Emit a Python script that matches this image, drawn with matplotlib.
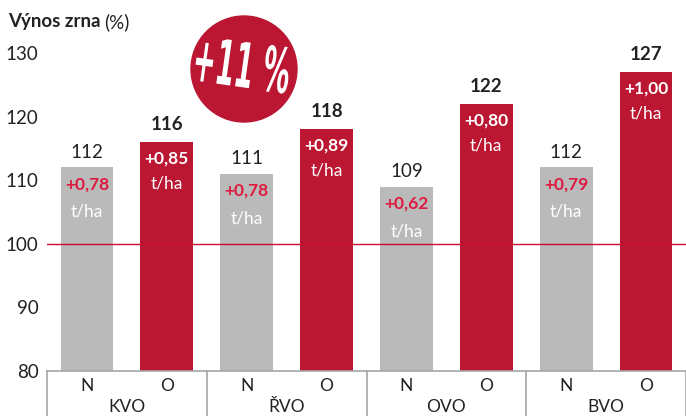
import matplotlib
matplotlib.use('Agg')
import matplotlib.pyplot as plt
from matplotlib.patches import Circle, PathPatch
from matplotlib.textpath import TextPath
from matplotlib.font_manager import FontProperties
import matplotlib.transforms as mtransforms

# data
groups = ['KVO', 'ŘVO', 'OVO', 'BVO']
n_vals = [112, 111, 109, 112]
o_vals = [116, 118, 122, 127]
n_gain = ['+0,78', '+0,78', '+0,62', '+0,79']
o_gain = ['+0,85', '+0,89', '+0,80', '+1,00']
sub_labels = ['N', 'O']
badge = '+11 %'

gray = '#bababa'
red = '#bb1733'
red_txt = '#de1a40'
dark = '#222222'

plt.rcParams['font.family'] = ['Lato', 'DejaVu Sans']

fig = plt.figure(figsize=(6.86, 4.16), dpi=100)
ax = fig.add_axes([47/686, 45/416, 1 - 47/686, (416-53-45)/416])

n_x = [2*i + 0.5 for i in range(len(groups))]
o_x = [2*i + 1.5 for i in range(len(groups))]
w = 0.66

ax.bar(n_x, [v - 80 for v in n_vals], bottom=80, width=w, color=gray, zorder=2)
ax.bar(o_x, [v - 80 for v in o_vals], bottom=80, width=w, color=red, zorder=2)

ax.set_xlim(0, 8)
ax.set_ylim(80, 130)
ax.set_yticks([80, 90, 100, 110, 120, 130])
ax.tick_params(axis='y', length=0, labelsize=13.5, labelcolor=dark, pad=6)
ax.set_xticks([])
for s in ['top', 'right', 'left']:
    ax.spines[s].set_visible(False)
ax.spines['bottom'].set_color('#a6a6a6')
ax.spines['bottom'].set_linewidth(1.2)

# reference line at 100
ax.axhline(100, color='#c8102e', lw=1.0, zorder=3)

for i in range(len(groups)):
    # value above bars
    ax.annotate(str(n_vals[i]), (n_x[i], n_vals[i]), xytext=(0, 11), textcoords='offset points',
                ha='center', va='center', fontsize=13.5, color=dark)
    ax.annotate(str(o_vals[i]), (o_x[i], o_vals[i]), xytext=(0, 12.5), textcoords='offset points',
                ha='center', va='center', fontsize=13.5, color=dark, fontweight='bold')
    # gains inside bars
    ax.annotate(n_gain[i], (n_x[i], n_vals[i]), xytext=(0, -12), textcoords='offset points',
                ha='center', va='center', fontsize=12.5, color=red_txt, fontweight='bold', zorder=4)
    ax.annotate('t/ha', (n_x[i], n_vals[i]), xytext=(0, -32), textcoords='offset points',
                ha='center', va='center', fontsize=12.5, color='white', zorder=4)
    ax.annotate(o_gain[i], (o_x[i], o_vals[i]), xytext=(0, -12), textcoords='offset points',
                ha='center', va='center', fontsize=12.5, color='white', fontweight='bold', zorder=4)
    ax.annotate('t/ha', (o_x[i], o_vals[i]), xytext=(0, -30), textcoords='offset points',
                ha='center', va='center', fontsize=12.5, color='white', zorder=4)

# category axis below
trans = mtransforms.blended_transform_factory(ax.transData, ax.transAxes)
for i, g in enumerate(groups):
    for j, lab in enumerate(sub_labels):
        ax.text(2*i + 0.5 + j, -0.047, lab, transform=trans, ha='center', va='center',
                fontsize=12.5, color=dark)
    ax.text(2*i + 1, -0.112, g, transform=trans, ha='center', va='center',
            fontsize=12.5, color=dark)
for k in range(len(groups) + 1):
    ax.plot([2*k, 2*k], [0, -0.2], transform=trans, color='#a6a6a6', lw=1.2, clip_on=False)

# title
fig.text(8/686, 1 - 22/416, 'Výnos zrna', fontsize=13.5, fontweight='bold', color=dark, va='center')
fig.text(104/686, 1 - 22/416, '(%)', fontsize=13.5, color=dark, va='center')

# badge: red circle with tall narrow white text
circ = Circle((2.44, 4.16 - 0.69), 0.53, transform=fig.dpi_scale_trans, color=red, zorder=5)
fig.patches.append(circ)
fp = FontProperties(family=['Liberation Sans Narrow', 'DejaVu Sans'], weight='bold')
tp = TextPath((0, 0), badge, size=1, prop=fp)
bb = tp.get_extents()
aff = (mtransforms.Affine2D()
       .translate(-bb.x0 - bb.width/2, -bb.y0 - bb.height/2)
       .scale(0.94/bb.width, 0.47/bb.height)
       .rotate_deg(-8)
       .translate(2.43, 4.16 - 0.645))
fig.patches.append(PathPatch(tp, transform=aff + fig.dpi_scale_trans, color='white', lw=0, zorder=6))

fig.savefig('out.png', dpi=100)
